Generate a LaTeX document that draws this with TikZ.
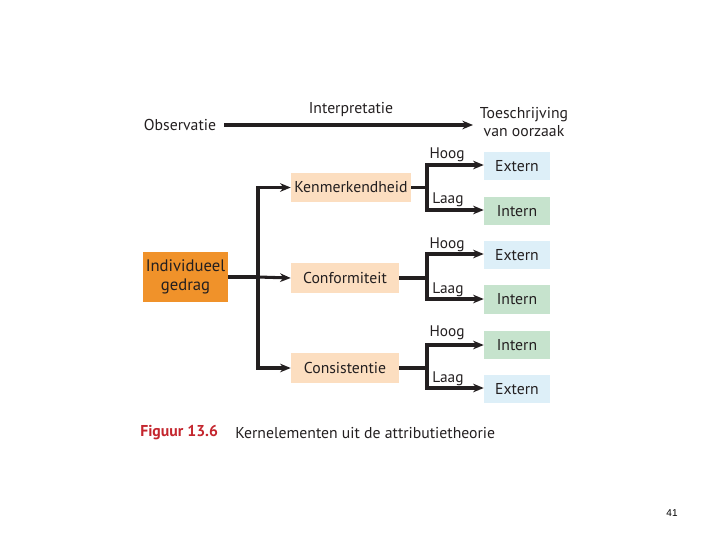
\documentclass[tikz,border=0pt]{standalone}
\usepackage{fontspec}
\setmainfont{PT Sans}
\newfontfamily\arialfont{Liberation Sans}
\usetikzlibrary{arrows.meta}
\definecolor{orangebox}{HTML}{F0922A}
\definecolor{peach}{HTML}{FCDEC0}
\definecolor{lblue}{HTML}{DDEFF8}
\definecolor{lgreen}{HTML}{C6E3CD}
\definecolor{capred}{HTML}{C4262E}
\definecolor{lineblack}{HTML}{231F20}
\begin{document}
\begin{tikzpicture}[x=0.75pt,y=-0.75pt,
  txt/.style={font=\fontsize{11.8}{13.5}\selectfont, text=lineblack, inner sep=0pt},
  box/.style={txt, minimum height=22pt, anchor=center},
  mainbox/.style={box, fill=orangebox, minimum width=64pt, minimum height=37.5pt, align=center, font=\fontsize{12.5}{14}\selectfont},
  midbox/.style={box, fill=peach},
  extbox/.style={box, fill=lblue, minimum width=49.5pt, minimum height=21.5pt},
  intbox/.style={box, fill=lgreen, minimum width=49.5pt, minimum height=21.5pt},
  conn/.style={line width=2.3pt, draw=lineblack},
  vconn/.style={conn, line cap=rect},
  arr/.style={conn, -{Stealth[length=8pt,width=6.5pt]}},
  lab/.style={txt, font=\fontsize{11.5}{13}\selectfont}
]
\useasboundingbox (0,0) rectangle (720,540);
% top row
\node[txt] (obs) at (180,125) {Observatie};
\node[txt, align=center] (toe) at (524,122) {Toeschrijving\\van oorzaak};
\node[txt] (interp) at (351,109) {Interpretatie};
\coordinate (obsE) at (224,125);
\coordinate (toeW) at (473,125);
\draw[arr] (obsE) -- (toeW);
% main box
\node[mainbox] (ind) at (185.5,277) {Individueel\\gedrag};
\node[midbox, minimum width=90pt] (ken) at (351,187.5) {Kenmerkendheid};
\node[midbox, minimum width=81pt] (con) at (345,278) {Conformiteit};
\node[midbox, minimum width=81pt] (cons) at (345,368) {Consistentie};
\coordinate (sp) at (258,277);
\draw[conn] (ind.east |- sp) -- (sp);
\draw[arr] (sp |- ken) -- (ken.west);
\draw[arr] (sp) -- (con.west);
\draw[arr] (sp |- cons) -- (cons.west);
\draw[vconn] (258,187.5) -- (258,368);
% right boxes
\node[extbox] (e1) at (517,166) {Extern};
\node[intbox] (i1) at (517,211) {Intern};
\node[extbox] (e2) at (517,255) {Extern};
\node[intbox] (i2) at (517,299.5) {Intern};
\node[intbox] (i3) at (517,345) {Intern};
\node[extbox] (e3) at (517,389) {Extern};
% branches
\foreach \src/\a/\b/\ya/\yb in {ken/e1/i1/165/210, con/e2/i2/254/299, cons/i3/e3/345/388}{
  \coordinate (br\src) at (427,0);
  \draw[conn] (\src.east) -- (br\src |- \src.east);
  \draw[vconn] (427,\ya) -- (427,\yb);
  \draw[arr] (427,\ya) -- (\a.west |- 0,\ya);
  \draw[arr] (427,\yb) -- (\b.west |- 0,\yb);
}
\node[lab] (h1) at (447,155) {Hoog};
\node[lab] (l1) at (448,200) {Laag};
\node[lab] (h2) at (447,245) {Hoog};
\node[lab] (l2) at (448,290) {Laag};
\node[lab] (h3) at (447,333) {Hoog};
\node[lab] (l3) at (448,379) {Laag};
% caption
\node[txt, anchor=west, text=capred, font=\fontsize{11.8}{13.5}\selectfont\bfseries] (fig) at (140,433) {Figuur 13.6};
\node[txt, anchor=west] (cap) at (235,433) {Kernelementen uit de attributietheorie};
\node[inner sep=0pt, font=\arialfont\fontsize{7.5}{9}\selectfont] (pg) at (672,513) {41};
\end{tikzpicture}
\end{document}
